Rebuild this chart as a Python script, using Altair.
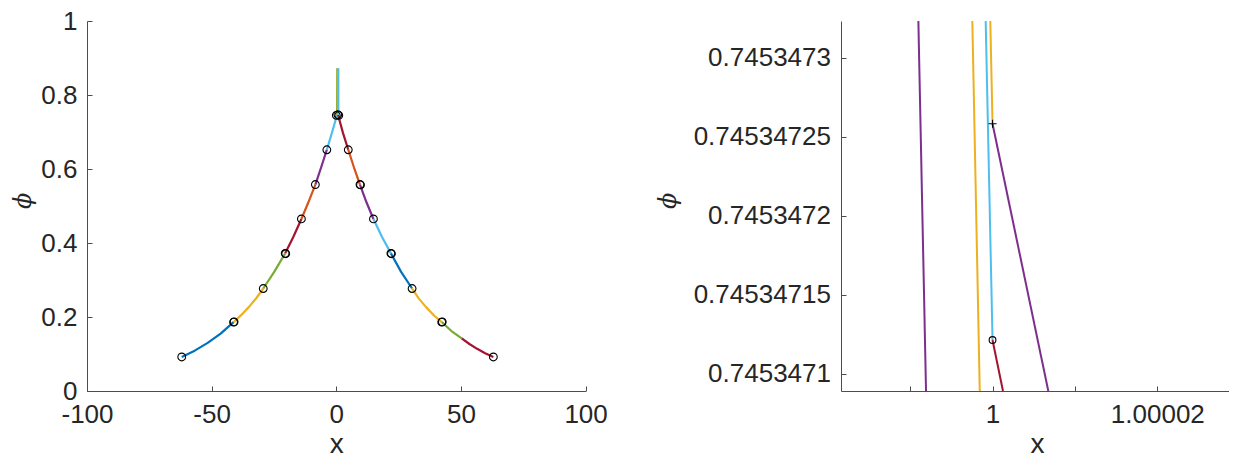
import altair as alt
import pandas as pd

FONT = "Liberation Sans"
TXT = "#262626"
AX = "#4d4d4d"

BLUE, ORANGE, YELLOW, PURPLE, GREEN, LBLUE, DRED = (
    "#0072BD", "#D95319", "#EDB120", "#7E2F8E", "#77AC30", "#4DBEEE", "#A2142F")

# ---------------- left panel data ----------------
left_curve_x = [-62.0, -56.8, -51.6, -46.4, -41.2, -38.2, -35.2, -32.2, -29.3, -24.9,
                -20.5, -17.2, -14.0, -11.2, -8.4, -6.1, -3.8, -1.75, 0.3]
left_curve_y = [0.092, 0.109, 0.130, 0.155, 0.186, 0.205, 0.226, 0.250, 0.277, 0.322,
                0.372, 0.417, 0.465, 0.510, 0.558, 0.604, 0.652, 0.698, 0.746]
left_breaks = [0, 4, 8, 10, 12, 14, 16, 18]
left_colors = [BLUE, YELLOW, GREEN, DRED, ORANGE, PURPLE, LBLUE]

right_curve_x = [0.7, 2.7, 4.8, 7.1, 9.5, 12.1, 14.9, 18.3, 21.9, 26.0, 30.4, 33.2,
                 36.1, 39.2, 42.3, 46.2, 50.3, 53.4, 56.5, 59.7, 63.0]
right_curve_y = [0.746, 0.697, 0.652, 0.604, 0.558, 0.510, 0.465, 0.417, 0.372, 0.322,
                 0.277, 0.249, 0.226, 0.204, 0.186, 0.162, 0.142, 0.127, 0.114, 0.102, 0.092]
right_breaks = [0, 2, 4, 6, 8, 10, 14, 16, 20]
right_colors = [DRED, ORANGE, PURPLE, LBLUE, BLUE, YELLOW, GREEN, DRED]

spike_x = [[0.3, 0.4], [0.6, 0.6], [0.8, 0.8]]
spike_y = [[0.746, 0.872], [0.746, 0.868], [0.746, 0.872]]
spike_colors = [GREEN, YELLOW, LBLUE]

circle_x = [-62.0, -41.2, -41.0, -29.3, -20.5, -20.3, -14.0, -8.4, -3.8, 0.0, 0.6, 1.0,
            4.8, 9.5, 9.7, 14.9, 21.9, 22.1, 30.4, 42.3, 42.5, 63.0]
circle_y = [0.092, 0.186, 0.187, 0.277, 0.372, 0.371, 0.465, 0.558, 0.652, 0.745, 0.747, 0.745,
            0.652, 0.558, 0.557, 0.465, 0.372, 0.371, 0.277, 0.186, 0.187, 0.092]

left_xticks = [-100, -50, 0, 50, 100]
left_yticks = [0, 0.2, 0.4, 0.6, 0.8, 1]

# ---------------- right panel data ----------------
Y_TOP = 0.7453473232
Y_BOT = 0.7453470890
zoom_x = [[0.99999100, 0.99999193], [0.99999755, 0.99999845], [0.99999917, 1.0],
          [0.99999973, 1.0], [1.0, 1.00000677], [1.0, 1.00000127]]
zoom_y = [[Y_TOP, Y_BOT], [Y_TOP, Y_BOT], [Y_TOP, 0.7453471213],
          [Y_TOP, 0.7453472582], [0.7453472582, Y_BOT], [0.7453471213, Y_BOT]]
zoom_colors = [PURPLE, YELLOW, LBLUE, YELLOW, PURPLE, DRED]
zoom_circle = (1.0, 0.7453471213)
zoom_plus = (1.0, 0.7453472582)

right_xticks = [0.99999, 1.0, 1.00001, 1.00002]
right_yticks = [0.7453471, 0.74534715, 0.7453472, 0.74534725, 0.7453473]
X_DOMAIN_R = [0.99998161, 1.0000287]

# ---------------- frames ----------------
rows = []
o = 0
def add_curve(xs, ys, breaks, colors, tag):
    global o
    for k, c in enumerate(colors):
        for j in range(breaks[k], breaks[k + 1] + 1):
            rows.append(dict(x=xs[j], y=ys[j], seg=f"{tag}{k}", color=c, o=o))
            o += 1

add_curve(left_curve_x, left_curve_y, left_breaks, left_colors, "L")
add_curve(right_curve_x, right_curve_y, right_breaks, right_colors, "R")
for k, c in enumerate(spike_colors):
    for j in range(2):
        rows.append(dict(x=spike_x[k][j], y=spike_y[k][j], seg=f"S{k}", color=c, o=o))
        o += 1
df_left = pd.DataFrame(rows)
df_circ = pd.DataFrame(dict(x=circle_x, y=circle_y))

rows = []
for k, c in enumerate(zoom_colors):
    for j in range(2):
        rows.append(dict(x=zoom_x[k][j], y=zoom_y[k][j], seg=f"Z{k}", color=c, o=o))
        o += 1
df_zoom = pd.DataFrame(rows)
df_zc = pd.DataFrame(dict(x=[zoom_circle[0]], y=[zoom_circle[1]]))
df_zp = pd.DataFrame(dict(x=[zoom_plus[0]], y=[zoom_plus[1]]))

PAD_L, PAD_T = 79, 13
W, H = 1142, 370
LW = 498.6
RX0, RX1 = 754, 1142

xsL = alt.Scale(domain=[-100, 100], range=[0, LW], nice=False, zero=False)
ysL = alt.Scale(domain=[0, 1], nice=False, zero=False)
xsR = alt.Scale(domain=X_DOMAIN_R, range=[RX0, RX1], nice=False, zero=False)
ysR = alt.Scale(domain=[Y_BOT, Y_TOP], nice=False, zero=False)

label_style = dict(labelFont=FONT, labelFontSize=26, labelColor=TXT, labelFlush=False,
                   labelOverlap=False, grid=False, ticks=False, domainColor=AX,
                   domainWidth=1)
tick_style = dict(labels=False, domain=False, grid=False, ticks=True, tickSize=5,
                  tickColor=AX, tickWidth=1, title=None)
xtitle = dict(title="x", titleFont=FONT, titleFontSize=28, titleFontWeight="normal",
              titleColor=TXT, titleBaseline="alphabetic", titleAlign="center", titleY=61)
ytitle = dict(title="ϕ", titleFont="DejaVu Serif", titleFontStyle="italic",
              titleFontSize=24, titleFontWeight="normal", titleColor=TXT,
              titleAngle=270, titleBaseline="middle", titleAlign="center", titleY=179.3)

axLx = alt.Axis(orient="bottom", values=left_xticks, labelPadding=10,
                labelExpr="'' + datum.value", titleX=LW / 2, **label_style, **xtitle)
axLy = alt.Axis(orient="left", values=left_yticks, labelPadding=10,
                labelExpr="'' + datum.value", titleX=-63.9, **label_style, **ytitle)
axLxT = alt.Axis(orient="bottom", values=left_xticks, offset=-5, **tick_style)
axLyT = alt.Axis(orient="left", values=left_yticks, offset=-5, **tick_style)

axRx = alt.Axis(orient="bottom", values=right_xticks, labelPadding=10,
                labelExpr="abs(datum.value - 1) < 1e-9 ? '1' : (abs(datum.value - 1.00002) < 1e-9 ? '1.00002' : '')",
                titleX=(RX0 + RX1 + 4) / 2, **label_style, **xtitle)
axRy = alt.Axis(orient="left", values=right_yticks, labelPadding=10.5, offset=-RX0,
                labelExpr="format(datum.value, '.8~f')", titleX=-172.2,
                **label_style, **ytitle)
axRxT = alt.Axis(orient="bottom", values=right_xticks, offset=-5, **tick_style)
axRyT = alt.Axis(orient="left", values=right_yticks, offset=-(RX0 + 5), **tick_style)

left_lines = alt.Chart(df_left).mark_line(strokeWidth=2.2, strokeJoin="round").encode(
    x=alt.X("x:Q", scale=xsL, axis=axLx),
    y=alt.Y("y:Q", scale=ysL, axis=axLy),
    detail="seg:N",
    color=alt.Color("color:N", scale=None),
    order="o:Q",
)
left_pts = alt.Chart(df_circ).mark_point(shape="circle", filled=False, color="black",
                                         size=60, strokeWidth=1.1, opacity=1).encode(
    x=alt.X("x:Q", scale=xsL, axis=None),
    y=alt.Y("y:Q", scale=ysL, axis=None),
)
left_ticks = alt.Chart(df_circ).mark_point(opacity=0).encode(
    x=alt.X("x:Q", scale=xsL, axis=axLxT),
    y=alt.Y("y:Q", scale=ysL, axis=axLyT),
)
left = alt.layer(left_lines, left_pts, left_ticks).resolve_axis(x="independent", y="independent")

right_lines = alt.Chart(df_zoom).mark_line(strokeWidth=2).encode(
    x=alt.X("x:Q", scale=xsR, axis=axRx),
    y=alt.Y("y:Q", scale=ysR, axis=axRy),
    detail="seg:N",
    color=alt.Color("color:N", scale=None),
    order="o:Q",
)
right_circ = alt.Chart(df_zc).mark_point(shape="circle", filled=False, color="black",
                                         size=46, strokeWidth=1.1, opacity=1).encode(
    x=alt.X("x:Q", scale=xsR, axis=None),
    y=alt.Y("y:Q", scale=ysR, axis=None),
)
right_plus = alt.Chart(df_zp).mark_point(shape="M-1,0L1,0M0,-1L0,1", filled=False,
                                         color="black", size=64, strokeWidth=1.1,
                                         opacity=1).encode(
    x=alt.X("x:Q", scale=xsR, axis=None),
    y=alt.Y("y:Q", scale=ysR, axis=None),
)
right_ticks = alt.Chart(df_zc).mark_point(opacity=0).encode(
    x=alt.X("x:Q", scale=xsR, axis=axRxT),
    y=alt.Y("y:Q", scale=ysR, axis=axRyT),
)
right = alt.layer(right_lines, right_circ, right_plus, right_ticks).resolve_axis(
    x="independent", y="independent")

chart = alt.layer(left, right).resolve_scale(
    x="independent", y="independent").resolve_axis(
    x="independent", y="independent").properties(
    width=W, height=H,
    padding={"left": PAD_L, "top": PAD_T, "right": 0, "bottom": 67},
    autosize=alt.AutoSizeParams(type="none"),
    background="white",
).configure_view(stroke=None)

chart.save("out.html", embed_options={"renderer": "svg", "actions": False})
